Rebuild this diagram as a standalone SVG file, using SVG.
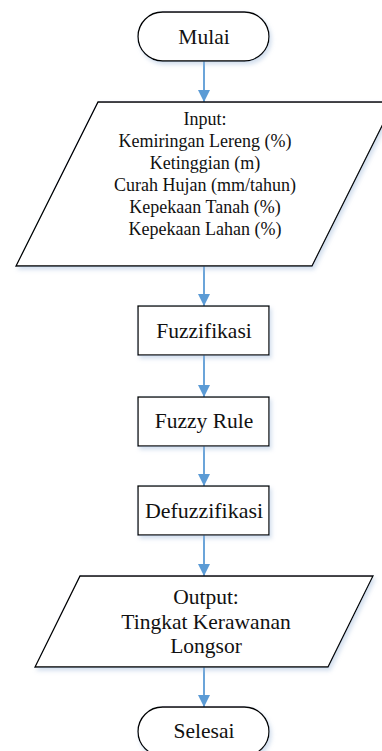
<svg xmlns="http://www.w3.org/2000/svg" width="382" height="751" viewBox="0 0 382 751">
  <style>
    .shape { fill: #ffffff; stroke: #000000; stroke-width: 1.3; filter: url(#shadow); }
    .label { font-family: "Liberation Serif", "Times New Roman", serif; fill: #111111; text-anchor: middle; }
    .big { font-size: 21.5px; }
    .small { font-size: 18px; }
    .conn { stroke: #5B9BD5; stroke-width: 1.8; fill: none; marker-end: url(#arrow); }
  </style>
  <defs>
    <filter id="shadow" x="-10%" y="-10%" width="125%" height="130%">
      <feDropShadow dx="2" dy="3" stdDeviation="2" flood-color="#9DB7D9" flood-opacity="0.45"/>
    </filter>
    <marker id="arrow" markerUnits="userSpaceOnUse" markerWidth="12" markerHeight="12" refX="12" refY="6" orient="auto">
      <path d="M0,0 L12,6 L0,12 Z" fill="#5B9BD5"/>
    </marker>
  </defs>
  <rect width="382" height="751" fill="#ffffff"/>

  <g id="connectors">
    <line class="conn" x1="204" y1="61" x2="204" y2="102"/>
    <line class="conn" x1="204" y1="266" x2="204" y2="306"/>
    <line class="conn" x1="204" y1="355" x2="204" y2="397"/>
    <line class="conn" x1="204" y1="446" x2="204" y2="486"/>
    <line class="conn" x1="204" y1="535" x2="204" y2="576"/>
    <line class="conn" x1="204" y1="667" x2="204" y2="707"/>
  </g>

  <g id="mulai">
    <rect class="shape" x="138" y="12" width="131" height="49" rx="24.5" ry="24.5"/>
    <text class="label big" x="204" y="43.5">Mulai</text>
  </g>

  <g id="input">
    <polygon class="shape" points="98,102 394,102 312,266 16,266"/>
    <text class="label small" x="205" y="125">Input:</text>
    <text class="label small" x="205" y="147">Kemiringan Lereng (%)</text>
    <text class="label small" x="205" y="169">Ketinggian (m)</text>
    <text class="label small" x="205" y="191">Curah Hujan (mm/tahun)</text>
    <text class="label small" x="205" y="213">Kepekaan Tanah (%)</text>
    <text class="label small" x="205" y="235">Kepekaan Lahan (%)</text>
  </g>

  <g id="fuzzifikasi">
    <rect class="shape" x="138" y="306" width="131" height="49"/>
    <text class="label big" x="204" y="337.5">Fuzzifikasi</text>
  </g>

  <g id="fuzzy-rule">
    <rect class="shape" x="138" y="397" width="131" height="49"/>
    <text class="label big" x="204" y="428">Fuzzy Rule</text>
  </g>

  <g id="defuzzifikasi">
    <rect class="shape" x="138" y="486" width="131" height="49"/>
    <text class="label big" x="204" y="517.5" textLength="118" lengthAdjust="spacingAndGlyphs">Defuzzifikasi</text>
  </g>

  <g id="output">
    <polygon class="shape" points="80,576 373,576 328,667 35,667"/>
    <text class="label big" x="206" y="603.5">Output:</text>
    <text class="label big" x="206" y="628.5">Tingkat Kerawanan</text>
    <text class="label big" x="206" y="653">Longsor</text>
  </g>

  <g id="selesai">
    <rect class="shape" x="138" y="707" width="131" height="49" rx="24.5" ry="24.5"/>
    <text class="label big" x="204" y="738">Selesai</text>
  </g>
</svg>
